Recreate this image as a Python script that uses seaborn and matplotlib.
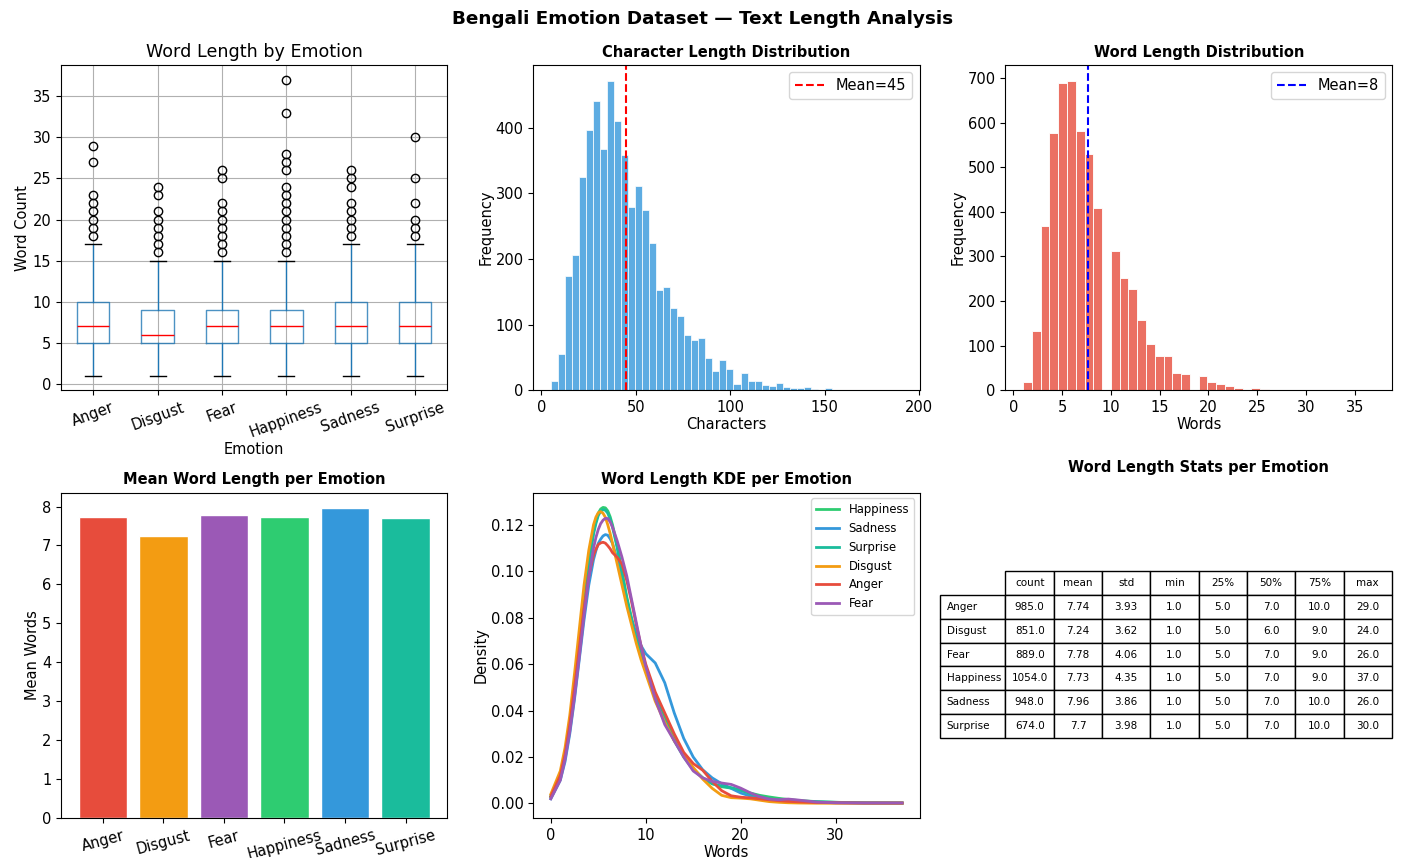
import numpy as np
import pandas as pd
import matplotlib
matplotlib.use("Agg")
import matplotlib.pyplot as plt
import seaborn as sns

plt.rcParams['font.size'] = 10.5
plt.rcParams['axes.labelpad'] = 1.5

# emotions and their colours
emotions = ['Anger', 'Disgust', 'Fear', 'Happiness', 'Sadness', 'Surprise']
colors = ['#e74c3c', '#f39c12', '#9b59b6', '#2ecc71', '#3498db', '#1abc9c']

# word count stats per emotion (describe())
stat_count = [985.0, 851.0, 889.0, 1054.0, 948.0, 674.0]
stat_mean = [7.74, 7.24, 7.78, 7.73, 7.96, 7.70]
stat_std = [3.93, 3.62, 4.06, 4.35, 3.86, 3.98]
stat_min = [1.0, 1.0, 1.0, 1.0, 1.0, 1.0]
stat_q1 = [5.0, 5.0, 5.0, 5.0, 5.0, 5.0]
stat_med = [7.0, 6.0, 7.0, 7.0, 7.0, 7.0]
stat_q3 = [10.0, 9.0, 9.0, 9.0, 10.0, 10.0]
stat_max = [29.0, 24.0, 26.0, 37.0, 26.0, 30.0]

# boxplot whisker tops and outliers
whisker_hi = [17, 15, 15, 15, 17, 17]
fliers = [
    [18, 19, 20, 21, 22, 23, 27, 29],
    [16, 17, 18, 19, 20, 21, 23, 24],
    [16, 17, 18, 19, 20, 21, 22, 25, 26],
    [16, 17, 18, 19, 20, 21, 22, 23, 24, 26, 27, 28, 33, 37],
    [18, 19, 20, 21, 22, 24, 25, 26],
    [18, 19, 20, 22, 25, 30],
]

# character length histogram (50 bins between 5 and 191 chars)
char_range = (5, 191)
char_bin_counts = [14, 55, 175, 207, 325, 396, 441, 367, 472, 410,
                   358, 280, 311, 275, 225, 153, 157, 126, 113, 84,
                   77, 80, 50, 29, 46, 32, 10, 26, 15, 14,
                   9, 7, 11, 5, 4, 3, 5, 2, 0, 4,
                   0, 1, 0, 1, 1, 0, 0, 0, 1, 1]
char_mean = 44.7

# word length frequency (1..37 words)
word_len = list(range(1, 38))
word_freq = [19, 133, 369, 577, 689, 694, 581, 530, 409, 312,
             252, 227, 158, 103, 78, 78, 39, 37, 33, 20,
             15, 9, 5, 2, 5, 4, 2, 1, 1, 1,
             0, 0, 1, 0, 0, 0, 1]
word_mean = 7.69

# KDE curves
kde_x = [0, 1, 1.5, 2, 2.5, 3, 3.5, 4, 4.5, 4.75,
         5, 5.25, 5.5, 5.75, 6, 6.25, 6.5, 7, 7.5, 8,
         8.5, 9, 9.5, 10, 11, 12, 13, 14, 15, 16,
         17, 18, 19, 20, 21, 22, 23, 24, 25, 26,
         28, 30, 33, 37]
kde_happiness = [0.003, 0.012, 0.021, 0.034, 0.050, 0.068, 0.087, 0.104, 0.117, 0.1215,
                 0.125, 0.1268, 0.1275, 0.1273, 0.126, 0.1235, 0.120, 0.111, 0.100, 0.089,
                 0.080, 0.072, 0.065, 0.058, 0.047, 0.037, 0.028, 0.021, 0.015, 0.011,
                 0.0085, 0.0072, 0.0066, 0.0056, 0.0045, 0.0035, 0.0028, 0.0022, 0.0017, 0.0013,
                 0.0008, 0.0005, 0.0003, 0.0003]
kde_sadness = [0.002, 0.010, 0.018, 0.030, 0.045, 0.062, 0.079, 0.094, 0.105, 0.1088,
               0.112, 0.1138, 0.1152, 0.1158, 0.1155, 0.114, 0.112, 0.105, 0.096, 0.087,
               0.079, 0.073, 0.068, 0.0645, 0.0605, 0.052, 0.039, 0.028, 0.020, 0.0145,
               0.011, 0.0085, 0.0065, 0.0045, 0.0032, 0.0024, 0.0018, 0.0013, 0.001, 0.0008,
               0.0005, 0.0003, 0.0002, 0.0001]
kde_surprise = [0.003, 0.012, 0.021, 0.033, 0.049, 0.067, 0.086, 0.103, 0.116, 0.1205,
                0.124, 0.1258, 0.1265, 0.1263, 0.125, 0.1225, 0.119, 0.110, 0.099, 0.088,
                0.079, 0.071, 0.064, 0.057, 0.046, 0.036, 0.027, 0.020, 0.0145, 0.011,
                0.0085, 0.0075, 0.0068, 0.0058, 0.0042, 0.003, 0.002, 0.0015, 0.0012, 0.001,
                0.0007, 0.0005, 0.0002, 0.0001]
kde_disgust = [0.004, 0.014, 0.024, 0.038, 0.056, 0.075, 0.094, 0.109, 0.120, 0.1233,
               0.1252, 0.1257, 0.125, 0.1232, 0.120, 0.1163, 0.112, 0.103, 0.094, 0.085,
               0.077, 0.069, 0.062, 0.056, 0.044, 0.035, 0.027, 0.021, 0.0155, 0.0105,
               0.0065, 0.0035, 0.0025, 0.0023, 0.002, 0.0014, 0.0008, 0.0005, 0.0003, 0.0002,
               0.0001, 0.0001, 0.0001, 0.0001]
kde_anger = [0.003, 0.012, 0.021, 0.034, 0.050, 0.067, 0.084, 0.098, 0.107, 0.1095,
             0.1115, 0.1122, 0.1125, 0.1121, 0.111, 0.1097, 0.108, 0.106, 0.103, 0.096,
             0.087, 0.077, 0.068, 0.060, 0.048, 0.039, 0.030, 0.022, 0.0172, 0.0143,
             0.0095, 0.0055, 0.0033, 0.0027, 0.0024, 0.002, 0.0016, 0.0012, 0.0009, 0.0007,
             0.0004, 0.0003, 0.0002, 0.0002]
kde_fear = [0.002, 0.010, 0.019, 0.031, 0.046, 0.063, 0.081, 0.097, 0.110, 0.1145,
            0.118, 0.1205, 0.122, 0.1228, 0.1227, 0.1213, 0.119, 0.113, 0.106, 0.098,
            0.088, 0.078, 0.068, 0.059, 0.045, 0.034, 0.027, 0.020, 0.014, 0.011,
            0.0095, 0.0088, 0.0082, 0.0066, 0.0046, 0.0029, 0.0019, 0.0016, 0.0019, 0.0015,
            0.0006, 0.0003, 0.0002, 0.0002]
kde_order = ['Happiness', 'Sadness', 'Surprise', 'Disgust', 'Anger', 'Fear']

palette = dict(zip(emotions, colors))

fig, axes = plt.subplots(2, 3, figsize=(14.05, 8.58), dpi=100)
fig.subplots_adjust(left=0.0434, right=0.9907, top=0.9242, bottom=0.0466,
                    wspace=0.222, hspace=0.314)
fig.suptitle('Bengali Emotion Dataset — Text Length Analysis',
             fontsize=13.2, fontweight='bold', y=0.988)

# 1. boxplot of word count by emotion
ax = axes[0, 0]
box_stats = []
for i, e in enumerate(emotions):
    box_stats.append(dict(label=e, med=stat_med[i], q1=stat_q1[i], q3=stat_q3[i],
                          whislo=stat_min[i], whishi=whisker_hi[i], fliers=fliers[i]))
ax.bxp(box_stats, widths=0.5,
       boxprops=dict(color='#1f77b4', alpha=0.8),
       whiskerprops=dict(color='#1f77b4'),
       capprops=dict(color='black'),
       medianprops=dict(color='red'),
       flierprops=dict(marker='o', markerfacecolor='none', markeredgecolor='black'))
ax.grid(True)
ax.set_axisbelow(True)
ax.set_title('Word Length by Emotion', fontsize=12.6)
ax.set_xlabel('Emotion')
ax.set_ylabel('Word Count')
ax.tick_params(axis='x', labelrotation=20)

# 2. character length histogram
ax = axes[0, 1]
char_edges = np.linspace(char_range[0], char_range[1], len(char_bin_counts) + 1)
char_centers = (char_edges[:-1] + char_edges[1:]) / 2
sns.histplot(x=char_centers, weights=char_bin_counts, bins=len(char_bin_counts),
             binrange=char_range, color='#3498db', alpha=0.8, edgecolor='white', ax=ax)
ax.axvline(char_mean, color='red', linestyle='--', linewidth=1.5,
           label=f'Mean={char_mean:.0f}')
ax.legend(loc='upper right')
ax.set_title('Character Length Distribution', fontsize=10.5, fontweight='bold')
ax.set_xlabel('Characters')
ax.set_ylabel('Frequency')

# 3. word length histogram
ax = axes[0, 2]
sns.histplot(x=word_len, weights=word_freq, bins=40, binrange=(1, 37),
             color='#e74c3c', alpha=0.8, edgecolor='white', ax=ax)
ax.axvline(word_mean, color='blue', linestyle='--', linewidth=1.5,
           label=f'Mean={word_mean:.0f}')
ax.legend(loc='upper right')
ax.set_title('Word Length Distribution', fontsize=10.5, fontweight='bold')
ax.set_xlabel('Words')
ax.set_ylabel('Frequency')

# 4. mean word length per emotion
ax = axes[1, 0]
sns.barplot(x=emotions, y=stat_mean, hue=emotions, palette=colors, legend=False,
            saturation=1, edgecolor='white', width=0.8, ax=ax)
ax.autoscale(enable=True, axis='x')
ax.set_title('Mean Word Length per Emotion', fontsize=10.5, fontweight='bold')
ax.set_ylabel('Mean Words')
ax.set_xlabel('')
ax.tick_params(axis='x', labelrotation=15)

# 5. KDE per emotion
ax = axes[1, 1]
kde_vals = {'Happiness': kde_happiness, 'Sadness': kde_sadness, 'Surprise': kde_surprise,
            'Disgust': kde_disgust, 'Anger': kde_anger, 'Fear': kde_fear}
kde_df = pd.concat([pd.DataFrame({'Words': kde_x, 'Density': kde_vals[e], 'emotion': e})
                    for e in kde_order], ignore_index=True)
sns.lineplot(data=kde_df, x='Words', y='Density', hue='emotion', hue_order=kde_order,
             palette=palette, linewidth=2, ax=ax)
sns.move_legend(ax, 'upper right', title=None, fontsize=8.4)
ax.set_title('Word Length KDE per Emotion', fontsize=10.5, fontweight='bold')
ax.set_xlabel('Words')
ax.set_ylabel('Density')

# 6. stats table
ax = axes[1, 2]
ax.axis('off')
col_labels = ['count', 'mean', 'std', 'min', '25%', '50%', '75%', 'max']
cells = []
for i in range(len(emotions)):
    row = [stat_count[i], stat_mean[i], stat_std[i], stat_min[i],
           stat_q1[i], stat_med[i], stat_q3[i], stat_max[i]]
    cells.append([str(round(v, 2)) for v in row])
tbl = ax.table(cellText=cells, rowLabels=emotions, colLabels=col_labels,
               cellLoc='center', bbox=[0, 0.245, 1, 0.515])
tbl.auto_set_font_size(False)
tbl.set_fontsize(7.5)
ax.set_title('Word Length Stats per Emotion', fontsize=10.5, fontweight='bold', pad=15)

fig.savefig('out.png', dpi=100)
